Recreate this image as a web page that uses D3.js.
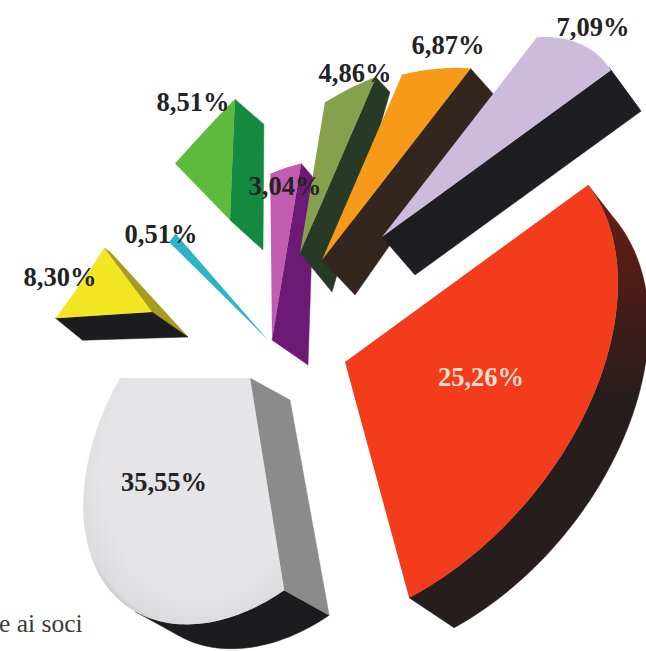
<!DOCTYPE html>
<html>
<head>
<meta charset="utf-8">
<script src="https://cdn.jsdelivr.net/npm/d3@7/dist/d3.min.js"></script>
<style>
  html, body { margin: 0; padding: 0; background: #fff; }
  svg { display: block; }
  text { font-family: "Liberation Serif", serif; }
</style>
</head>
<body>
<svg id="chart" width="646" height="651"></svg>
<script>
// Shares of the exploded pie, clockwise from the red sector.
const values = [25.26, 35.55, 8.30, 0.51, 8.51, 3.04, 4.86, 6.87, 7.09];
const faceColors = ["#f23c1c", "url(#whiteFace)", "#f2e622", "#2fb3c6", "#5dba3c", "#c25cb0", "#86a04e", "#f79a1a", "#cdbbdc"];
const startWallColors = ["#231f20", "#8c8b8c", "#1c1c1e", "#2fb3c6", "#138a40", "#6c1a74", "#263a26", "#33261e", "#1e1e22"];
const endWallColors = ["#231f20", "#1c1c1e", "#a69c1e", "#2fb3c6", "#138a40", "#6c1a74", "#263a26", "#33261e", "#1e1e22"];
const rimColors = ["url(#redRim)", "#1c1c1e", "#1c1c1e", "#2fb3c6", "#138a40", "#6c1a74", "#263a26", "#33261e", "#1e1e22"];
const labelColors = ["#f8dccb", "#232325", "#232325", "#232325", "#232325", "#232325", "#232325", "#232325", "#232325"];

// Explosion of each sector away from the pie centre.
const explodeX = [55, -40, -138, -22, -60, -18, 10, 32, 92];
const explodeY = [32, 48, -18, 10, -110, 10, -77, -70, -93];
// Small corrections of the projected edge angles, in degrees.
const nudgeStart = [0, 2.4, -3, -0.8, -2, 0, 0, 1.5, 0];
const nudgeEnd = [-2.6, 0, 4.5, 0, 3, 0, 1.5, 0, 0];
// Radial stretch of a sector at its start, middle and end angle.
const radialStretch = [
  [1.03, 1.00, 1.07], [0.93, 1.20, 1.15], [0.83, 0.76, 0.77],
  [1.38, 1.38, 1.38], [0.78, 0.77, 0.81], [1.16, 1.12, 1.08],
  [0.92, 0.92, 0.92], [0.97, 0.95, 0.94], [0.98, 0.99, 0.97]
];
// Extrusion vectors: at the apex, at the rim's start and at the rim's end.
const depthApex = [[40, 25], [40, 22], [36, 25], [0, 0], [33, 30], [36, 25], [32, 39], [33, 35], [33, 38]];
const depthRimStart = [[25, 32], [45, 25], [27, 22], [0, 0], [28, 25], [13, 15], [14, 15], [24, 27], [30, 41]];
const depthRimEnd = [[45, 30], [40, 22], [6, 4], [0, 0], [29, 25], [13, 15], [14, 15], [24, 27], [30, 41]];
// Label anchors relative to the pie centre.
const labelDX = [191, -126, -230, -129, -97, -5, 65, 158, 303];
const labelDY = [50, 155, -50, -93, -225, -141, -254, -282, -300];

const centre = { x: 290, y: 330 };
const svg = d3.select("#chart");

const defs = svg.append("defs");
const whiteGrad = defs.append("radialGradient").attr("id", "whiteFace")
  .attr("cx", 0.58).attr("cy", 0.38).attr("r", 0.68);
whiteGrad.append("stop").attr("offset", "0.72").attr("stop-color", "#e5e4e6");
whiteGrad.append("stop").attr("offset", "0.93").attr("stop-color", "#dcdbdd");
whiteGrad.append("stop").attr("offset", "1").attr("stop-color", "#bdbcbe");

const redRim = defs.append("linearGradient").attr("id", "redRim")
  .attr("gradientUnits", "userSpaceOnUse")
  .attr("x1", 0).attr("y1", 190).attr("x2", 0).attr("y2", 400);
redRim.append("stop").attr("offset", "0").attr("stop-color", "#6a1c14");
redRim.append("stop").attr("offset", "1").attr("stop-color", "#261d1d");

// Perspective mapping of the flat pie onto the page.
function project(angle) {
  const c = Math.cos(angle), s = Math.sin(angle);
  const w = 1 - 0.266 * c - 0.300 * s;
  return [(173.2 * c + 36.5 * s) / w, (-126.2 * c + 156.3 * s) / w];
}

const pie = d3.pie().sort(null).value(d => d);
const arcs = pie(values);
const line = d3.line();
const lerp = (a, b, t) => a + (b - a) * t;
const lerpVec = (a, b, t) => [lerp(a[0], b[0], t), lerp(a[1], b[1], t)];
const radians = d => d * Math.PI / 180;

function stretchAt(k, f) {
  // Quadratic through the three stretch values.
  const a = k[0], c = 2 * (k[2] + a - 2 * k[1]), b = k[2] - a - c;
  return a + b * f + c * f * f;
}

function buildSector(arc, i) {
  const apex = [centre.x + explodeX[i], centre.y + explodeY[i]];
  const a0 = arc.startAngle + radians(nudgeStart[i]);
  const a1 = arc.endAngle + radians(nudgeEnd[i]);
  const steps = Math.max(4, Math.ceil((a1 - a0) / 0.02));
  const rim = d3.range(steps + 1).map(j => {
    const f = j / steps;
    const p = project(lerp(a0, a1, f));
    const k = stretchAt(radialStretch[i], f);
    return { pt: [apex[0] + p[0] * k, apex[1] + p[1] * k], depth: lerpVec(depthRimStart[i], depthRimEnd[i], f) };
  });
  return { apex, rim };
}

const shift = (p, d) => [p[0] + d[0], p[1] + d[1]];
// A wall faces the viewer when the extrusion points out of the sector's clockwise outline.
const facing = (a, b, d) => (b[0] - a[0]) * d[1] - (b[1] - a[1]) * d[0] < 0;
const drawOrder = d3.range(values.length).map(i => (i + 2) % values.length);

drawOrder.forEach(i => {
  const { apex, rim } = buildSector(arcs[i], i);
  const g = svg.append("g").attr("class", "sector");
  const wall = (pts, color) => g.append("path")
    .attr("d", line(pts) + "Z").attr("fill", color)
    .attr("stroke", color).attr("stroke-width", 0.5);

  const first = rim[0], last = rim[rim.length - 1];
  const tip = shift(apex, depthApex[i]);

  if (facing(last.pt, apex, depthApex[i])) {
    wall([apex, last.pt, shift(last.pt, last.depth), tip], endWallColors[i]);
  }
  // Runs of neighbouring rim segments that face the viewer become one wall.
  const run = [];
  const flush = () => {
    if (run.length > 1) {
      wall([...run.map(r => r.pt), ...run.slice().reverse().map(r => shift(r.pt, r.depth))], rimColors[i]);
    }
    run.length = 0;
  };
  d3.pairs(rim).forEach(([a, b]) => {
    if (facing(a.pt, b.pt, a.depth)) {
      if (!run.length) run.push(a);
      run.push(b);
    } else {
      flush();
    }
  });
  flush();
  if (facing(apex, first.pt, depthApex[i])) {
    wall([apex, first.pt, shift(first.pt, first.depth), tip], startWallColors[i]);
  }

  g.append("path")
    .attr("d", line([apex, ...rim.map(r => r.pt)]) + "Z")
    .attr("fill", faceColors[i]);
});

// Percentage labels use the decimal comma.
const labelFormat = v => d3.format(".2f")(v).replace(".", ",") + "%";
svg.append("g").selectAll("text").data(values).join("text")
  .attr("x", (d, i) => centre.x + labelDX[i])
  .attr("y", (d, i) => centre.y + labelDY[i])
  .attr("text-anchor", "middle")
  .attr("dominant-baseline", "middle")
  .attr("font-size", 26.5)
  .attr("font-weight", "bold")
  .attr("fill", (d, i) => labelColors[i])
  .text(labelFormat);

// Tail of a legend entry at the page edge.
svg.append("text").attr("x", -1).attr("y", 632)
  .attr("font-size", 25.5).attr("fill", "#3a3a3c").text("e ai soci");
</script>
</body>
</html>
